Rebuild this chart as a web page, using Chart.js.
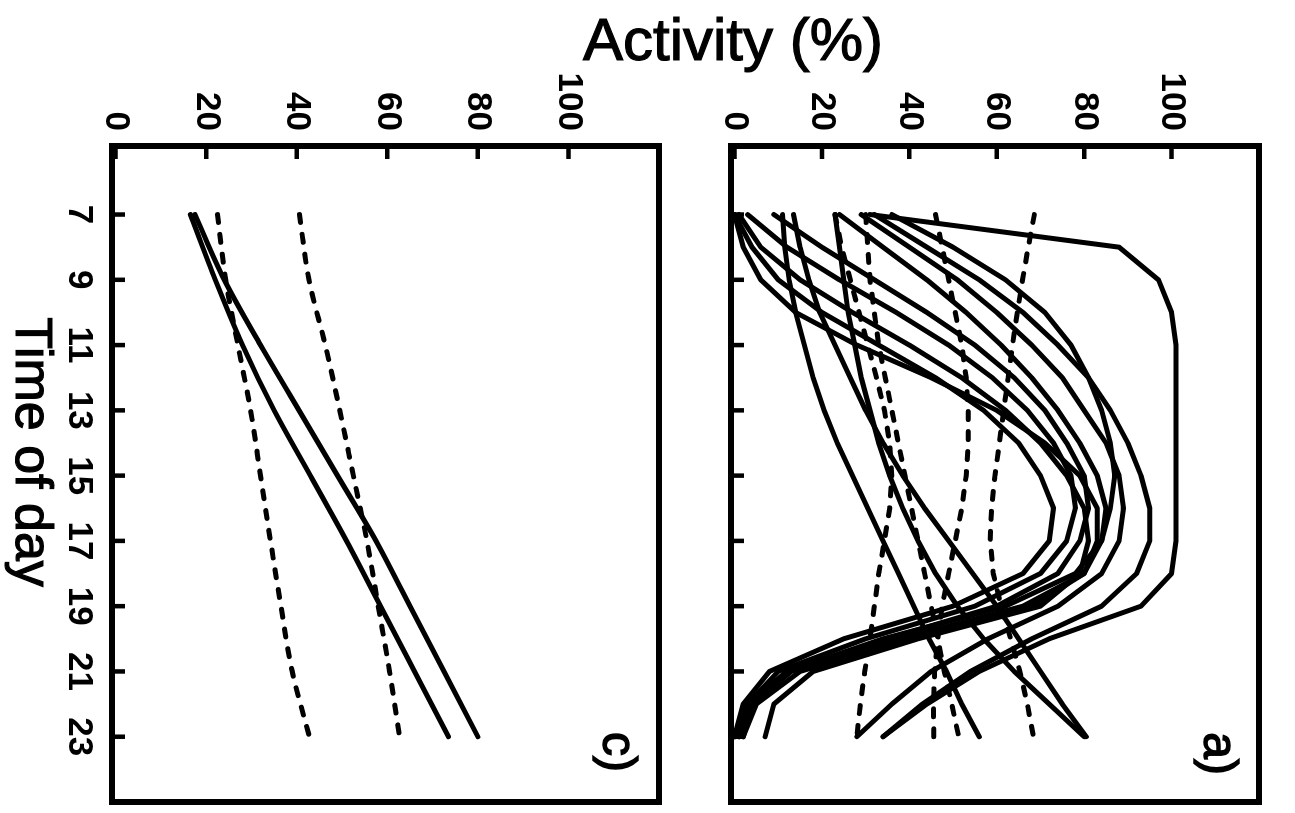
<!DOCTYPE html>
<html>
<head>
<meta charset="utf-8">
<title>Activity by time of day</title>
<script src="https://cdn.jsdelivr.net/npm/chart.js@4.4.1/dist/chart.umd.min.js"></script>
<style>
  html, body { margin: 0; padding: 0; background: #fff; overflow: hidden; }
  body { width: 1295px; height: 813px; position: relative; font-family: Arial, "Liberation Sans", Helvetica, sans-serif; color: #000; }
  /* the figure is laid out upright (813 x 1295) and turned a quarter clockwise */
  #figure { position: absolute; left: 0; top: 0; width: 813px; height: 1295px; transform-origin: 0 0; transform: translateX(1295px) rotate(90deg); }
  .panel { position: absolute; left: 0; }
  #panelA { top: 0; }
  #panelC { top: 600px; }
  .title { position: absolute; text-align: center; -webkit-text-stroke: 1.2px #000; }
  #xTitle { left: 152px; width: 600px; top: 1235px; font-size: 52px; line-height: 52px; }
  #yTitle { left: 433px; width: 600px; top: 10px; font-size: 60px; line-height: 60px; }
</style>
</head>
<body>
<div id="yTitle" class="title">Activity (%)</div>
<div id="figure">
  <canvas id="panelA" class="panel" width="813" height="600"></canvas>
  <canvas id="panelC" class="panel" width="813" height="695"></canvas>
  <div id="xTitle" class="title">Time of day</div>
</div>
<script>
// time axis
const hours = [7, 8, 9, 10, 11, 12, 13, 14, 15, 16, 17, 18, 19, 20, 21, 22, 23];
const hoursC = [7, 9, 11, 13, 15, 17, 19, 21, 23];
const timeTicks = [7, 9, 11, 13, 15, 17, 19, 21, 23];
const activityTicks = [0, 20, 40, 60, 80, 100];

// panel a, solid curves (activity % per hour)
const aPlateau = [31, 88, 97, 100, 101, 101, 101, 101, 101, 101, 101, 100, 93, 72, 56, 44, 34];
const aBell1 = [0, 4, 10, 20, 33, 46, 57, 65, 70, 73, 72, 66, 50, 25, 8, 2, 0];
const aBell2 = [3, 12, 24, 37, 49, 59, 67, 73, 77, 78, 76, 70, 55, 30, 10, 3, 1];
const aBell3 = [9, 20, 32, 44, 55, 64, 71, 76, 80, 81, 79, 74, 60, 35, 13, 4, 2];
const aBell4 = [0, 2, 6, 14, 28, 45, 60, 71, 79, 83, 83, 80, 66, 38, 12, 3, 0];
const aBell5 = [24, 34, 44, 53, 61, 68, 74, 79, 83, 85, 84, 80, 68, 40, 15, 5, 2];
const aBell6 = [29, 40, 51, 60, 68, 75, 80, 85, 88, 89, 88, 84, 74, 58, 45, 36, 28];
const aBell7 = [32, 44, 56, 66, 74, 81, 86, 90, 93, 95, 95, 92, 84, 68, 54, 43, 34];
const aBell8 = [36, 50, 62, 71, 77, 81, 84, 86, 87, 86, 84, 78, 62, 34, 12, 4, 1];
const aBell9 = [1, 6, 15, 27, 40, 52, 62, 70, 76, 80, 81, 79, 70, 42, 18, 9, 7];
const aRise80 = [13.5, 15, 17, 19.5, 23, 26.5, 30, 34, 38.5, 43.5, 49, 54.5, 60, 65, 70, 75, 80.5];
const aRise80b = [23, 24, 25, 26, 27.5, 29, 31, 33, 35.5, 38.5, 42, 46, 51, 57, 64, 72, 80];
const aRise56 = [11, 11.5, 12.5, 14, 16, 18, 20.5, 23.5, 27, 30.5, 34, 37.5, 41, 44.5, 48.5, 52, 56];

// panel a, dashed curves
const aDashU = [68.6, 67.2, 65.9, 64.7, 63.6, 62.6, 61.6, 60.6, 59.6, 58.8, 58.5, 59.2, 61, 63.2, 65.3, 67, 68.4];
const aDashArch = [23, 24.5, 26.5, 28.5, 30.5, 32.5, 34.3, 35.5, 36, 35.5, 34.3, 33, 32, 31, 29.8, 28.8, 28];
const aDashMid = [46, 47.5, 49, 50.5, 52, 53, 53.5, 53.5, 53, 52, 50.5, 49, 47.5, 46.5, 45.8, 45.5, 45.6];
const aDashRise = [30, 30.5, 31, 32, 33, 34.5, 36, 37.5, 39, 40.5, 42, 43.5, 45, 46.5, 48, 49.7, 51.3];

// panel c
const cSolidHigh = [17.5, 24, 32, 40.5, 49, 57.5, 65, 72.5, 80];
const cSolidLow = [16.5, 22, 28, 35, 43, 51, 58.5, 66, 73.5];
const cDashLow = [22.5, 24.3, 27, 29.8, 32, 34.2, 36.5, 39, 42.8];
const cDashHigh = [40.6, 42.7, 46.3, 49.5, 52.5, 55.5, 58, 60.5, 62.7];

const toPoints = (xs, ys) => xs.map((x, i) => ({ x, y: ys[i] }));

const solid = (xs, ys, smooth) => ({
  data: toPoints(xs, ys),
  borderColor: '#000',
  borderWidth: 5,
  pointRadius: 0,
  tension: 0,
  cubicInterpolationMode: smooth ? 'monotone' : 'default',
  borderJoinStyle: 'round',
  borderCapStyle: 'round'
});

const dashed = (xs, ys, smooth) => Object.assign(solid(xs, ys, smooth), { borderDash: [8, 12] });

// box round the plot area, inward tick marks and the panel letter
const framePlugin = {
  id: 'frame',
  afterDraw(chart, args, opts) {
    const { ctx, chartArea: a, scales: { x, y } } = chart;
    ctx.save();
    ctx.strokeStyle = '#000';
    ctx.lineWidth = 4.5;
    ctx.beginPath();
    x.ticks.forEach(t => {
      const px = x.getPixelForValue(t.value);
      ctx.moveTo(px, a.bottom);
      ctx.lineTo(px, a.bottom - 13);
    });
    y.ticks.forEach(t => {
      const py = y.getPixelForValue(t.value);
      ctx.moveTo(a.left, py);
      ctx.lineTo(a.left + 13, py);
    });
    ctx.stroke();
    ctx.lineWidth = 6;
    ctx.strokeRect(a.left, a.top, a.right - a.left, a.bottom - a.top);
    ctx.fillStyle = '#000';
    ctx.lineWidth = 1.5;
    ctx.font = '48px Arial, "Liberation Sans", sans-serif';
    ctx.textAlign = 'right';
    ctx.textBaseline = 'alphabetic';
    ctx.fillText(opts.label, a.right - opts.dx, a.top + opts.dy);
    ctx.strokeText(opts.label, a.right - opts.dx, a.top + opts.dy);
    ctx.restore();
  }
};

const tickFont = { family: 'Arial, "Liberation Sans", sans-serif', size: 35, weight: 'bold' };

function makePanel(id, datasets, opts) {
  return new Chart(document.getElementById(id), {
    type: 'line',
    data: { datasets },
    options: {
      responsive: false,
      animation: false,
      devicePixelRatio: 1,
      events: [],
      layout: { padding: { top: opts.top, right: 11, left: 0, bottom: 0 } },
      plugins: {
        legend: { display: false },
        tooltip: { enabled: false },
        frame: { label: opts.label, dx: opts.dx, dy: opts.dy }
      },
      scales: {
        x: {
          type: 'linear',
          min: 4.9,
          max: 25,
          afterBuildTicks: s => { s.ticks = timeTicks.map(v => ({ value: v })); },
          afterFit: s => { s.height = opts.xHeight; },
          grid: { display: false, drawTicks: false, tickLength: 0 },
          border: { display: false },
          ticks: { display: opts.showTime, font: tickFont, color: '#000', padding: 12, maxRotation: 0 }
        },
        y: {
          min: -0.8,
          max: 120,
          afterBuildTicks: s => { s.ticks = activityTicks.map(v => ({ value: v })); },
          afterFit: s => { s.width = 146; },
          grid: { display: false, drawTicks: false, tickLength: 0 },
          border: { display: false },
          ticks: { font: tickFont, color: '#000', padding: 15 }
        }
      }
    },
    plugins: [framePlugin]
  });
}

makePanel('panelA', [
  solid(hours, aPlateau), solid(hours, aBell1), solid(hours, aBell2), solid(hours, aBell3),
  solid(hours, aBell4), solid(hours, aBell5), solid(hours, aBell6), solid(hours, aBell7),
  solid(hours, aBell8), solid(hours, aBell9), solid(hours, aRise80), solid(hours, aRise80b),
  solid(hours, aRise56),
  dashed(hours, aDashU), dashed(hours, aDashArch), dashed(hours, aDashMid), dashed(hours, aDashRise)
], { top: 18, xHeight: 27, showTime: false, label: 'a)', dx: 27, dy: 55 });

makePanel('panelC', [
  solid(hoursC, cSolidHigh, true), solid(hoursC, cSolidLow, true),
  dashed(hoursC, cDashLow, true), dashed(hoursC, cDashHigh, true)
], { top: 22, xHeight: 112, showTime: true, label: 'c)', dx: 30, dy: 56 });
</script>
</body>
</html>
